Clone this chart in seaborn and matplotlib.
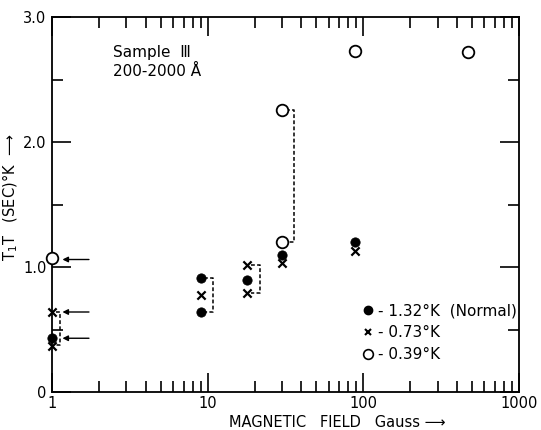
import matplotlib
matplotlib.use("Agg")
import matplotlib.pyplot as plt
import matplotlib.ticker as mticker
from matplotlib.lines import Line2D
import seaborn as sns
import pandas as pd

# ---- data ----
normal_x = [1, 9, 9, 18, 30, 88]
normal_y = [0.43, 0.91, 0.64, 0.90, 1.10, 1.20]

mid_x = [1, 1, 9, 18, 18, 30, 88]
mid_y = [0.64, 0.37, 0.78, 0.79, 1.02, 1.03, 1.13]

cold_x = [1, 30, 30, 88, 470]
cold_y = [1.07, 2.26, 1.20, 2.73, 2.72]

# dashed brackets: field, low, high
bracket_x = [1, 9, 18, 30]
bracket_lo = [0.38, 0.64, 0.79, 1.20]
bracket_hi = [0.64, 0.91, 1.02, 2.26]

arrow_levels = [1.06, 0.64, 0.43]

x_ticks = [1, 10, 100, 1000]
x_ticklabels = ["1", "10", "100", "1000"]
y_ticks = [0, 1, 2, 3]
y_ticklabels = ["0", "1.0", "2.0", "3.0"]

legend_labels = ["- 1.32°K  (Normal)", "- 0.73°K", "- 0.39°K"]

sns.set_theme(style="ticks")
plt.rcParams["font.family"] = ["DejaVu Sans"]
plt.rcParams["text.color"] = "black"
plt.rcParams["axes.labelcolor"] = "black"

fig = plt.figure(figsize=(5.41, 4.30), dpi=100)
ax = fig.add_axes([52 / 541, 38 / 430, 467 / 541, 375 / 430])

df_n = pd.DataFrame({"x": normal_x, "y": normal_y})
df_m = pd.DataFrame({"x": mid_x, "y": mid_y})
df_c = pd.DataFrame({"x": cold_x, "y": cold_y})

sns.scatterplot(data=df_n, x="x", y="y", ax=ax, marker="o", s=45,
                color="black", edgecolor="black", zorder=3, clip_on=False)
sns.scatterplot(data=df_m, x="x", y="y", ax=ax, marker="x", s=35,
                color="black", linewidth=1.6, zorder=3, clip_on=False)
sns.scatterplot(data=df_c, x="x", y="y", ax=ax, marker="o", s=70,
                facecolor="white", edgecolor="black", linewidth=1.3, zorder=3,
                clip_on=False)

# dashed brackets
for bx, lo, hi in zip(bracket_x, bracket_lo, bracket_hi):
    xr = bx * (1.12 if bx == 1 else 1.2)
    ax.plot([bx * 1.06, xr, xr, bx * 1.06], [hi, hi, lo, lo],
            ls=(0, (2.5, 1.5)), color="black", lw=1.1, zorder=2)

# arrows at x = 1
for yl in arrow_levels:
    ax.annotate("", xy=(1.12, yl), xytext=(1.8, yl),
                arrowprops=dict(arrowstyle="-|>", color="black", lw=1.0,
                                mutation_scale=8), zorder=2)

ax.set_xscale("log")
ax.set_xlim(1, 1000)
ax.set_ylim(0, 3.0)
ax.set_xticks(x_ticks)
ax.set_xticklabels(x_ticklabels)
ax.xaxis.set_minor_locator(mticker.LogLocator(base=10, subs=range(2, 10)))
ax.xaxis.set_minor_formatter(mticker.NullFormatter())
ax.set_yticks(y_ticks)
ax.set_yticklabels(y_ticklabels)
ax.yaxis.set_minor_locator(mticker.MultipleLocator(0.5))

ax.tick_params(which="both", direction="in", top=True, right=True,
               colors="black", labelsize=10.5, width=1.2)
ax.tick_params(which="major", length=14, pad=4)
ax.tick_params(axis="x", which="major", pad=3)
ax.tick_params(which="minor", length=8)
for sp in ax.spines.values():
    sp.set_linewidth(1.3)
    sp.set_color("black")

ax.set_xlabel("MAGNETIC   FIELD   Gauss ⟶", fontsize=10.5)
ax.xaxis.set_label_coords(0.61, -0.062)
ax.set_ylabel("T$_\\mathregular{1}$T   (SEC)°K  ⟶", fontsize=10.5)
ax.yaxis.set_label_coords(-0.068, 0.52)

ax.text(0.13, 0.925, "Sample  Ⅲ\n200-2000 Å", transform=ax.transAxes,
        fontsize=11, va="top", ha="left", linespacing=1.3)

handles = [
    Line2D([], [], marker="o", color="black", ls="", markersize=6),
    Line2D([], [], marker="x", color="black", ls="", markersize=5, mew=1.5),
    Line2D([], [], marker="o", markerfacecolor="white", markeredgecolor="black",
           ls="", markersize=7, mew=1.2),
]
ax.legend(handles, legend_labels, loc="lower left",
          bbox_to_anchor=(0.645, 0.06), frameon=False, fontsize=11,
          handletextpad=0.1, handlelength=1.0, labelspacing=0.45,
          borderpad=0)

fig.savefig("out.png", dpi=100)
